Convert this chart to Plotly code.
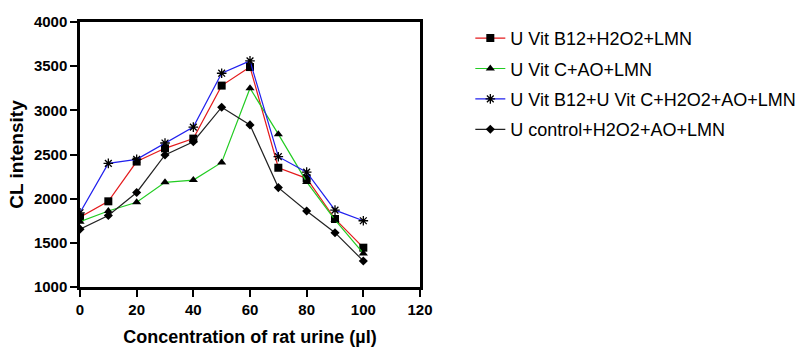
import plotly.graph_objects as go

x_vals = [0, 10, 20, 30, 40, 50, 60, 70, 80, 90, 100]
vit_b12 = [1790, 1970, 2420, 2570, 2680, 3280, 3490, 2350, 2230, 1770, 1445]
vit_c = [1740, 1860, 1960, 2185, 2210, 2410, 3250, 2730, 2190, 1760, 1380]
vit_b12_c = [1840, 2400, 2445, 2630, 2810, 3420, 3560, 2475, 2300, 1870, 1750]
control = [1655, 1810, 2070, 2495, 2645, 3035, 2835, 2125, 1860, 1615, 1295]

names = ["U Vit B12+H2O2+LMN", "U Vit C+AO+LMN",
         "U Vit B12+U Vit C+H2O2+AO+LMN", "U control+H2O2+AO+LMN"]
series = [vit_b12, vit_c, vit_b12_c, control]
line_colors = ["#e41a1c", "#22cc22", "#2020ee", "#222222"]
symbols = ["square", "triangle-up", "asterisk-open", "diamond"]
sizes = [8, 8, 8, 7]

x_ticks = [0, 20, 40, 60, 80, 100, 120]
y_ticks = [1000, 1500, 2000, 2500, 3000, 3500, 4000]

fig = go.Figure()
for i, (name, ys, c, s, sz) in enumerate(zip(names, series, line_colors, symbols, sizes)):
    fig.add_trace(go.Scatter(
        x=x_vals, y=ys, name=name, mode="lines+markers", legendgroup=f"g{i}",
        line=dict(color=c, width=1.2),
        marker=dict(symbol=s, size=sz, color="black",
                    line=dict(color="black", width=1.3 if s == "asterisk-open" else 0)),
    ))

font_family = "Liberation Sans, Arial, sans-serif"
fig.update_layout(
    width=801, height=356,
    margin=dict(l=80, r=381, t=22, b=69, autoexpand=False),
    plot_bgcolor="white", paper_bgcolor="white",
    font=dict(family=font_family, color="black"),
    showlegend=True,
    legend=dict(x=1.148, y=1.008, xanchor="left", yanchor="top",
                font=dict(size=18, family=font_family),
                tracegroupgap=4,
                bgcolor="rgba(0,0,0,0)"),
    xaxis=dict(range=[0, 120], tickvals=x_ticks, ticks="outside", ticklen=7,
               tickwidth=2, tickcolor="black", showline=True, linewidth=2.5,
               linecolor="black", mirror=True, showgrid=False, zeroline=False,
               tickfont=dict(size=15, family=font_family, weight="bold"),
               title=dict(text="<b>Concentration of rat urine (µl)</b>",
                          font=dict(size=18), standoff=14)),
    yaxis=dict(range=[1000, 4000], tickvals=y_ticks, ticks="outside", ticklen=7,
               tickwidth=2, tickcolor="black", showline=True, linewidth=2.5,
               linecolor="black", mirror=True, showgrid=False, zeroline=False,
               tickfont=dict(size=15, family=font_family, weight="bold"),
               title=dict(text="<b>CL intensity</b>", font=dict(size=19), standoff=6)),
)

fig.write_html("out.html")
